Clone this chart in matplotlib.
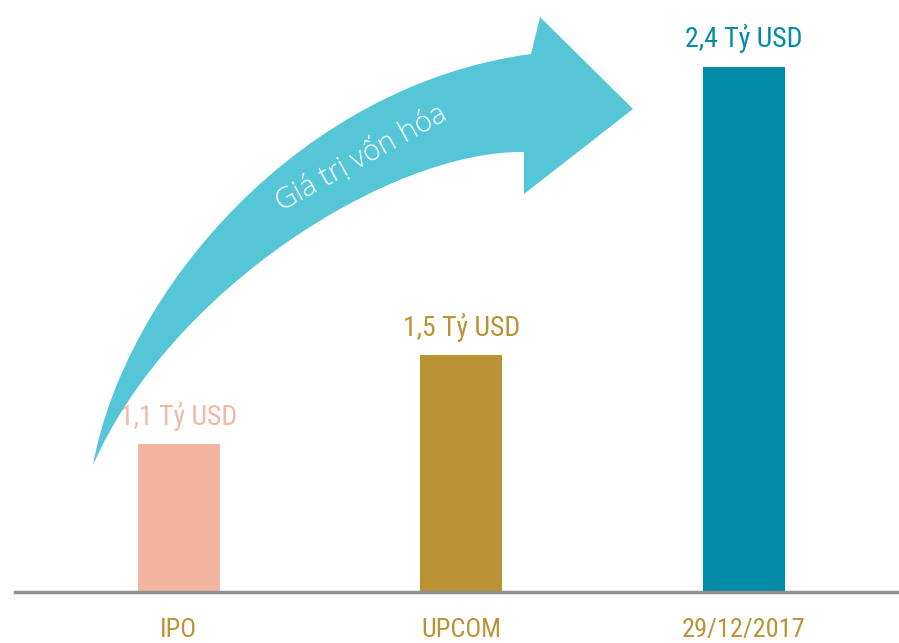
import matplotlib
matplotlib.use("Agg")
import matplotlib.pyplot as plt
from matplotlib.path import Path
from matplotlib.patches import PathPatch
from matplotlib import font_manager
from matplotlib.font_manager import FontProperties

# data
categories = ["IPO", "UPCOM", "29/12/2017"]
values = [1.1, 1.5, 2.4]               # ty USD (labels)
bar_heights = [1.0, 1.6, 3.55]          # heights as drawn in the original (not to scale)
labels = ["1,1 Tỷ USD", "1,5 Tỷ USD", "2,4 Tỷ USD"]
colors = ["#F1B5A1", "#B99334", "#018BA6"]
label_colors = ["#F1B8A2", "#B99334", "#018BA6"]
tick_color = "#B99334"
arrow_text = "Giá trị vốn hóa"


def pick_font(prefs, stretches, weights):
    fl = font_manager.fontManager.ttflist
    for name in prefs:
        for f in fl:
            if f.name == name and f.stretch in stretches and f.weight in weights and f.style == "normal":
                return f.fname
    return None


narrow_file = pick_font(["Roboto Condensed", "Liberation Sans Narrow", "Noto Sans Condensed",
                         "Open Sans Condensed", "DejaVu Sans Condensed", "Noto Sans", "Roboto",
                         "Open Sans", "DejaVu Sans"],
                        ["condensed", "semi-condensed", "extra-condensed", "ultra-condensed"],
                        [400, "normal", "regular", 500, "medium"])
if narrow_file is None:
    narrow_file = pick_font(["Liberation Sans Narrow", "Roboto Condensed"],
                            ["normal", "condensed", "semi-condensed"], [400, "normal", "regular"])


def narrow_fp(size):
    if narrow_file:
        return FontProperties(fname=narrow_file, size=size)
    return FontProperties(family=["Liberation Sans", "DejaVu Sans"], size=size)


light_file = pick_font(["Open Sans", "Lato", "Roboto", "Inter"], ["normal"], [300, "light", 200])
if light_file:
    light_fp = FontProperties(fname=light_file, size=21)
else:
    light_fp = FontProperties(family=["Open Sans", "DejaVu Sans"], weight="light", size=21)

W, H = 899, 643
fig = plt.figure(figsize=(W / 100, H / 100), dpi=100)
fig.patch.set_facecolor("white")

# main bar axes: baseline at y=592px, spans x 15..899
ax = fig.add_axes([15 / W, 51 / H, 884 / W, 592 / H])
x = list(range(len(categories)))
ax.bar(x, bar_heights, width=0.29, color=colors, zorder=2)
ax.set_xlim(-0.58, 2.55)
ax.set_ylim(0, 4.0)

for xi, h, lab, c in zip(x, bar_heights, labels, label_colors):
    ax.annotate(lab, (xi, h), xytext=(0, 14), textcoords="offset points",
                ha="center", va="baseline", color=c, fontproperties=narrow_fp(20))

for s in ["top", "right", "left"]:
    ax.spines[s].set_visible(False)
ax.spines["bottom"].set_color("#8E9094")
ax.spines["bottom"].set_linewidth(2.5)
ax.set_yticks([])
ax.set_xticks(x)
ax.set_xticklabels(categories, color=tick_color, fontproperties=narrow_fp(19))
ax.tick_params(axis="x", length=0, pad=19)
ax.patch.set_alpha(0)

# overlay axes in pixel coords for the curved arrow
ov = fig.add_axes([0, 0, 1, 1])
ov.set_xlim(0, W)
ov.set_ylim(H, 0)
ov.axis("off")
ov.patch.set_alpha(0)

verts = [
    (93, 465),
    (125, 290), (300, 85), (531, 54),
    (540, 17),
    (633, 109),
    (524, 194),
    (524, 152),
    (390, 150), (170, 290), (93, 465),
    (93, 465),
]
codes = [Path.MOVETO,
         Path.CURVE4, Path.CURVE4, Path.CURVE4,
         Path.LINETO, Path.LINETO, Path.LINETO, Path.LINETO,
         Path.CURVE4, Path.CURVE4, Path.CURVE4,
         Path.CLOSEPOLY]
ov.add_patch(PathPatch(Path(verts, codes), facecolor="#55C5D8", edgecolor="none"))
ov.text(361, 159, arrow_text, rotation=29, rotation_mode="anchor",
        ha="center", va="center", color="white", fontproperties=light_fp)

fig.savefig("out.png", dpi=100)
